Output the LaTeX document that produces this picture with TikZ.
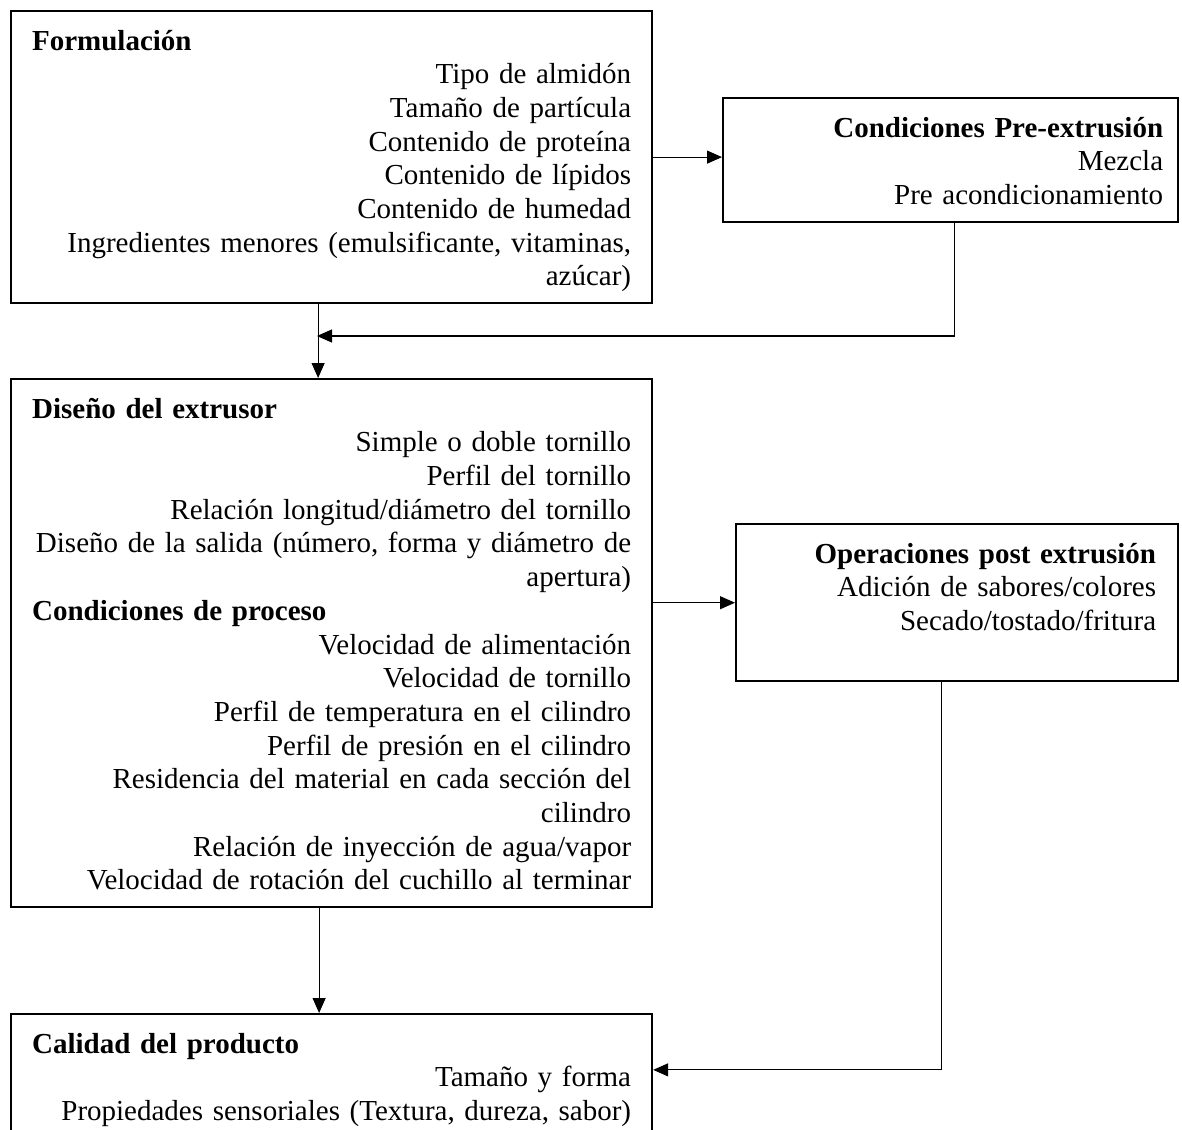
\documentclass[tikz,border=0pt]{standalone}
\usepackage{fontspec}
\setmainfont{Liberation Serif}
\usetikzlibrary{arrows.meta}

\newcommand{\titulo}[1]{\makebox[\linewidth][l]{\textbf{#1}}}

\begin{document}
\begin{tikzpicture}[
    x=1pt, y=-1pt,
    bloque/.style={rectangle, draw, line width=2.2pt, anchor=north west, align=right,
        inner ysep=7pt, font=\fontsize{29}{33.7}\selectfont,
        execute at begin node=\rule{0pt}{32pt}, execute at end node=\strut},
    ancho/.style={text width=599pt, inner xsep=21pt},
    flecha/.style={-{Triangle[length=15pt,width=13pt]}, line width=1.1pt}
]
    \clip (0,0) rectangle (1182,1129);

    % Formulacion
    \node[bloque, ancho] (form) at (10,10) {\titulo{Formulación}\\
        Tipo de almidón\\
        Tamaño de partícula\\
        Contenido de proteína\\
        Contenido de lípidos\\
        Contenido de humedad\\
        Ingredientes menores (emulsificante, vitaminas,\\
        azúcar)};

    % Pre-extrusion
    \node[bloque, text width=425pt, inner xsep=15pt] (pre) at (722,97) {\textbf{Condiciones Pre-extrusión}\\
        Mezcla\\
        Pre acondicionamiento};

    % Extrusor
    \node[bloque, ancho] (dis) at (10,378) {\titulo{Diseño del extrusor}\\
        Simple o doble tornillo\\
        Perfil del tornillo\\
        Relación longitud/diámetro del tornillo\\
        Diseño de la salida (número, forma y diámetro de\\
        apertura)\\
        \titulo{Condiciones de proceso}\\
        Velocidad de alimentación\\
        Velocidad de tornillo\\
        Perfil de temperatura en el cilindro\\
        Perfil de presión en el cilindro\\
        Residencia del material en cada sección del\\
        cilindro\\
        Relación de inyección de agua/vapor\\
        Velocidad de rotación del cuchillo al terminar};

    % Post extrusion
    \node[bloque, text width=398pt, inner xsep=22pt] (post) at (735,523) {\textbf{Operaciones post extrusión}\\
        Adición de sabores/colores\\
        Secado/tostado/fritura\\
        \mbox{}};

    % Calidad
    \node[bloque, ancho] (cal) at (10,1013) {\titulo{Calidad del producto}\\
        Tamaño y forma\\
        Propiedades sensoriales (Textura, dureza, sabor)};

    % Conexiones
    \coordinate (union) at (317,336);
    \draw[flecha] (form.east) -- (form.east -| pre.west);
    \draw[flecha] ([xshift=3.5pt]pre.south) |- (union);
    \draw[flecha] ([xshift=-13.5pt]form.south) -- ([xshift=-13.5pt]dis.north);
    \draw[flecha] (dis.east |- post.west) -- (post.west);
    \draw[flecha] ([xshift=-12.5pt]dis.south) -- ([xshift=-12.5pt]cal.north);
    \draw[flecha] ([xshift=-16pt]post.south) |- ([yshift=6pt]cal.east);

\end{tikzpicture}
\end{document}
